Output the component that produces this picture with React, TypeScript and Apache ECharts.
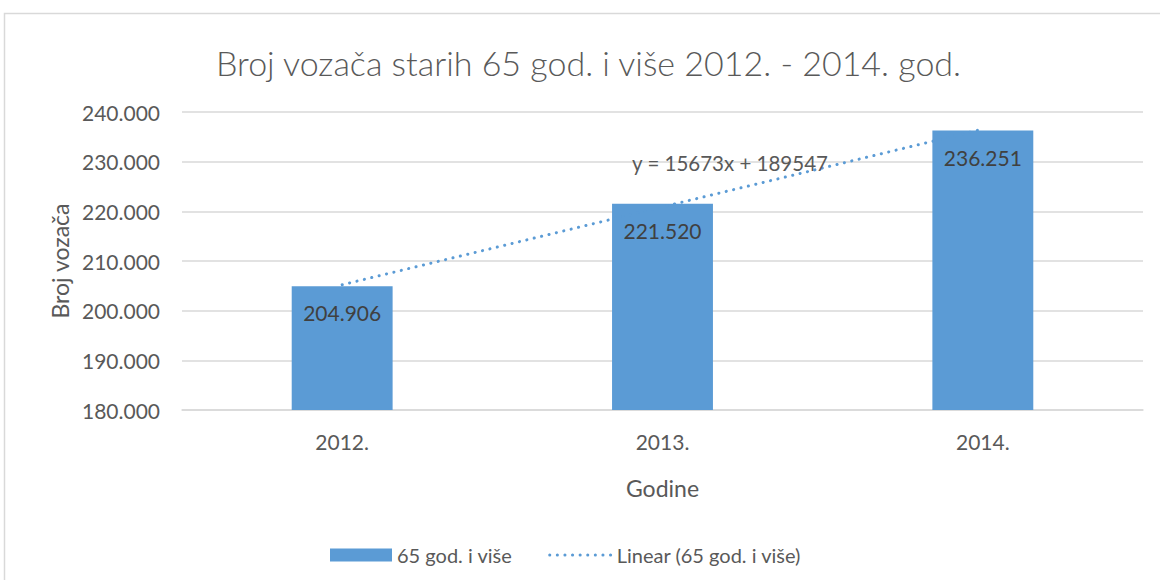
import React, { useEffect, useRef } from "react";
import * as echarts from "echarts";

const categories = ["2012.", "2013.", "2014."];
const values = [204906, 221520, 236251];
const trendValues = [205220, 220893, 236566];
const seriesName = "65 god. i više";
const trendName = "Linear (65 god. i više)";
const equation = "y = 15673x + 189547";
const titleText = "Broj vozača starih 65 god. i više 2012. - 2014. god.";

const FONT = "Lato, 'Open Sans', sans-serif";
const TXT = "#595959";
const BLUE = "#5B9BD5";

const fmt = (v: number) => (v / 1000).toFixed(3);

export default function App() {
  const ref = useRef<HTMLDivElement>(null);
  useEffect(() => {
    document.body.style.margin = "0";
    const chart = echarts.init(ref.current!, null, { renderer: "svg" });
    chart.setOption({
      animation: false,
      backgroundColor: "#ffffff",
      textStyle: { fontFamily: FONT },
      title: {
        text: titleText,
        left: 211,
        top: 40,
        textStyle: { fontFamily: FONT, fontSize: 34, fontWeight: 300, color: TXT },
      },
      grid: { left: 182, right: 17, top: 112, bottom: 170 },
      legend: {
        left: 325,
        top: 540,
        itemWidth: 62,
        itemHeight: 13,
        itemGap: 36,
        textStyle: { fontFamily: FONT, fontSize: 20, color: TXT },
        data: [
          { name: seriesName, icon: "rect" },
          {
            name: trendName,
            itemStyle: { opacity: 0 },
            lineStyle: { color: BLUE, width: 3, type: [0.1, 7.5], cap: "round" },
          },
        ],
      },
      xAxis: {
        type: "category",
        data: categories,
        name: "Godine",
        nameLocation: "middle",
        nameGap: 66,
        nameTextStyle: { fontFamily: FONT, fontSize: 23, color: TXT },
        axisLine: { show: true, lineStyle: { color: "#D9D9D9", width: 1.5 } },
        axisTick: { show: false },
        axisLabel: { fontFamily: FONT, fontSize: 21, color: TXT, margin: 21 },
      },
      yAxis: {
        type: "value",
        min: 180000,
        max: 240000,
        interval: 10000,
        name: "Broj vozača",
        nameLocation: "middle",
        nameGap: 110,
        nameRotate: 90,
        nameTextStyle: { fontFamily: FONT, fontSize: 23, color: TXT },
        axisLine: { show: false },
        axisTick: { show: false },
        axisLabel: { fontFamily: FONT, fontSize: 21, color: TXT, margin: 22, formatter: fmt },
        splitLine: { lineStyle: { color: "#D9D9D9", width: 1.5 } },
      },
      series: [
        {
          name: seriesName,
          type: "bar",
          data: values,
          barWidth: "31.5%",
          itemStyle: { color: BLUE },
          label: {
            show: true,
            position: "insideTop",
            distance: 16,
            fontFamily: FONT,
            fontSize: 21,
            color: "#404040",
            formatter: (p: any) => fmt(p.value),
          },
          z: 2,
        },
        {
          name: trendName,
          type: "line",
          data: trendValues,
          symbol: "none",
          lineStyle: { color: BLUE, width: 3, type: [0.1, 7.5], cap: "round" },
          itemStyle: { color: BLUE },
          z: 3,
        },
      ],
      graphic: [
        {
          type: "rect",
          shape: { x: 4.5, y: 13.5, width: 1200, height: 700 },
          style: { fill: "none", stroke: "#D9D9D9", lineWidth: 1.5 },
          silent: true,
          z: -1,
        },
        {
          type: "text",
          x: 730,
          y: 163,
          style: {
            text: equation,
            fontFamily: FONT,
            fontSize: 20.5,
            fill: TXT,
            align: "center",
            verticalAlign: "middle",
          },
          z: 10,
        },
      ],
    });
    return () => chart.dispose();
  }, []);
  return <div ref={ref} style={{ width: 1160, height: 580 }} />;
}
